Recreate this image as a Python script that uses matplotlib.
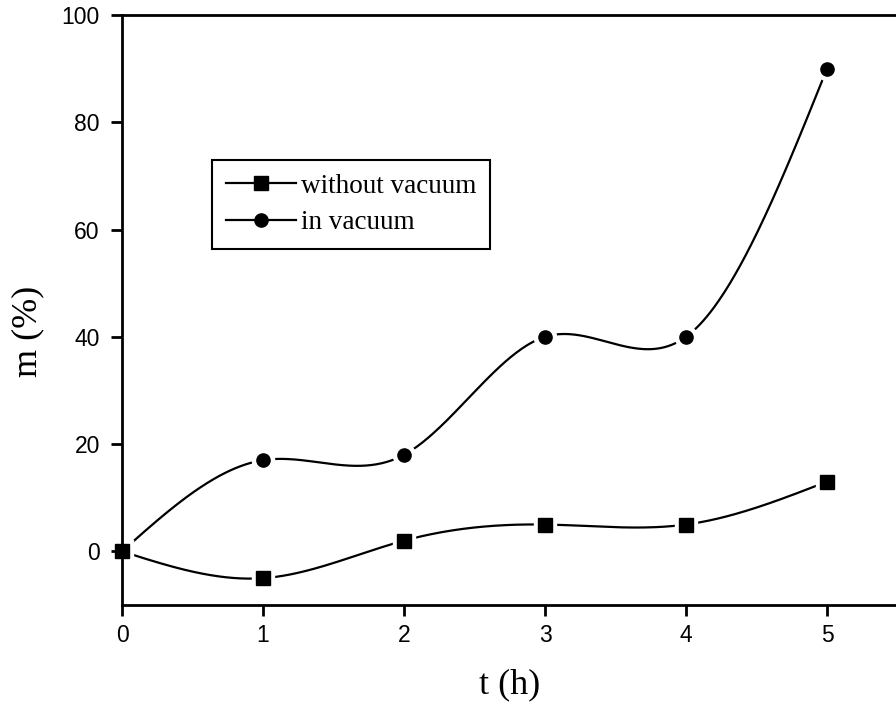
import numpy as np
import matplotlib
matplotlib.use("Agg")
import matplotlib.pyplot as plt

t_hours = [0, 1, 2, 3, 4, 5]
m_without_vacuum = [0, -5, 2, 5, 5, 13]
m_in_vacuum = [0, 17, 18, 40, 40, 90]


def natural_spline(x, y, num=400):
    # natural cubic spline through the points, only for drawing the smooth line
    x = np.asarray(x, float)
    y = np.asarray(y, float)
    n = len(x)
    h = np.diff(x)
    A = np.zeros((n, n))
    b = np.zeros(n)
    A[0, 0] = A[-1, -1] = 1
    for i in range(1, n - 1):
        A[i, i - 1] = h[i - 1]
        A[i, i] = 2 * (h[i - 1] + h[i])
        A[i, i + 1] = h[i]
        b[i] = 3 * ((y[i + 1] - y[i]) / h[i] - (y[i] - y[i - 1]) / h[i - 1])
    c = np.linalg.solve(A, b)
    xs = np.linspace(x[0], x[-1], num)
    idx = np.clip(np.searchsorted(x, xs, side="right") - 1, 0, n - 2)
    dx = xs - x[idx]
    bb = (y[idx + 1] - y[idx]) / h[idx] - h[idx] * (2 * c[idx] + c[idx + 1]) / 3
    dd = (c[idx + 1] - c[idx]) / (3 * h[idx])
    return xs, y[idx] + bb * dx + c[idx] * dx ** 2 + dd * dx ** 3


fig = plt.figure(figsize=(8.96, 7.08), dpi=100)
ax = fig.add_axes([0.1362, 0.1455, 0.8655, 0.8333])

series = [(m_without_vacuum, "s", "without vacuum"), (m_in_vacuum, "o", "in vacuum")]
for vals, mk, lab in series:
    xs, ys = natural_spline(t_hours, vals)
    ax.plot(xs, ys, color="black", lw=1.6, zorder=1)
    # white halo gives the gap around markers (kept under the spines)
    ax.plot(t_hours, vals, ls="none", marker=mk, ms=16, mfc="white", mec="white", zorder=2)
    ax.plot(t_hours, vals, ls="none", marker=mk, ms=9.5, mfc="black", mec="black",
            zorder=4, clip_on=False)
    ax.plot([], [], color="black", lw=1.6, marker=mk, ms=9.5, label=lab)

ax.set_xlim(0, 5.5)
ax.set_ylim(-10, 100)
ax.set_xticks(t_hours)
ax.set_yticks([0, 20, 40, 60, 80, 100])
ax.spines["right"].set_visible(False)
for s in ["left", "bottom", "top"]:
    ax.spines[s].set_linewidth(2)
ax.tick_params(direction="out", length=8, width=2, labelsize=16.5)
ax.tick_params(axis="x", pad=6)
ax.tick_params(axis="y", pad=8)
for lbl in ax.get_xticklabels() + ax.get_yticklabels():
    lbl.set_family("Liberation Sans")

ax.set_xlabel("t (h)", family="Liberation Serif", fontsize=26)
ax.set_ylabel("m (%)", family="Liberation Serif", fontsize=26)
ax.xaxis.set_label_coords(0.5, -0.108)
ax.yaxis.set_label_coords(-0.10, 0.463)

leg = ax.legend(loc="upper left", bbox_to_anchor=(0.116, 0.754), frameon=True,
                fancybox=False, edgecolor="black", framealpha=1,
                prop={"family": "Liberation Serif", "size": 19.5},
                handlelength=2.6, handletextpad=0.2, labelspacing=0.42,
                borderpad=0.5, borderaxespad=0)
leg.get_frame().set_linewidth(1.5)

fig.savefig("out.png", dpi=100)
